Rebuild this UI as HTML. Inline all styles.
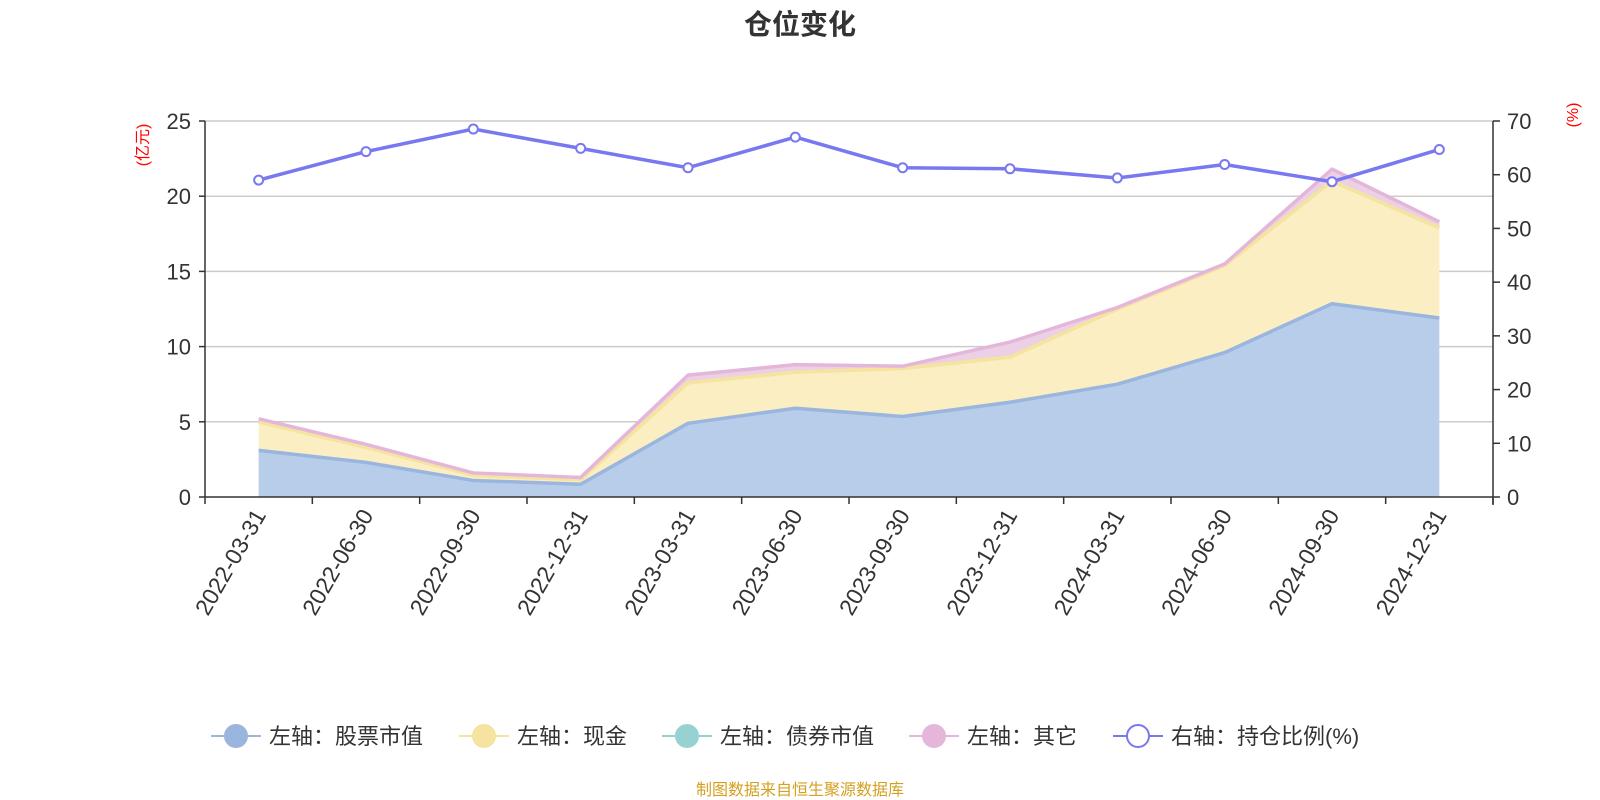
<!DOCTYPE html>
<html><head><meta charset="utf-8"><style>
html,body{margin:0;padding:0;background:#fff;}
svg{display:block;font-family:"Liberation Sans","Noto Sans CJK SC",sans-serif;}
</style></head><body>
<svg id="c" width="1600" height="800" viewBox="0 0 1600 800">
<text x="800" y="34" text-anchor="middle" font-size="28" font-weight="bold" fill="#333">仓位变化</text>
<text transform="translate(148,145) rotate(-90)" text-anchor="middle" font-size="16" fill="#f00">(亿元)</text>
<text transform="translate(1578,115) rotate(-90)" text-anchor="middle" font-size="16" fill="#f00">(%)</text>
<g id="grid"></g><g id="areas"></g><g id="edges"></g><g id="axes"></g><g id="line"></g>
<g id="legend"></g>
<text x="800" y="795" text-anchor="middle" font-size="16" fill="#d4a020">制图数据来自恒生聚源数据库</text>
</svg>
<script>
const categories=["2022-03-31","2022-06-30","2022-09-30","2022-12-31","2023-03-31","2023-06-30","2023-09-30","2023-12-31","2024-03-31","2024-06-30","2024-09-30","2024-12-31"];
const stockValues=[3.1,2.3,1.1,0.85,4.9,5.9,5.35,6.3,7.5,9.6,12.85,11.9];
const cashValues=[1.9,1.0,0.35,0.3,2.7,2.4,3.2,3.0,5.0,5.8,8.15,6.0];
const bondValues=[0,0,0,0,0,0,0,0,0,0,0,0];
const otherValues=[0.2,0.2,0.15,0.15,0.5,0.5,0.15,1.0,0.1,0.1,0.8,0.4];
const ratioValues=[59.0,64.3,68.5,64.9,61.3,67.0,61.3,61.1,59.4,61.9,58.7,64.7];
const leftTicks=[0,5,10,15,20,25];
const rightTicks=[0,10,20,30,40,50,60,70];
const NS="http://www.w3.org/2000/svg";
const L=205,R=1493,T=121,B=497;
const band=(R-L)/categories.length;
const x=i=>L+band*(i+0.5);
const yL=v=>B-(B-T)*v/25;
const yR=v=>B-(B-T)*v/70;
function mk(tag,attrs,parent){const e=document.createElementNS(NS,tag);for(const k in attrs)e.setAttribute(k,attrs[k]);parent.appendChild(e);return e;}
const grid=document.getElementById('grid'),axes=document.getElementById('axes'),areas=document.getElementById('areas'),edges=document.getElementById('edges'),lineG=document.getElementById('line'),leg=document.getElementById('legend');
leftTicks.forEach(v=>{
 if(v>0){const g=mk('line',{x1:L,x2:R,y1:yL(v),y2:yL(v),stroke:'#ccc','stroke-width':1.5},grid);
 
 }
 const t=mk('text',{x:L-14,y:yL(v)+8,'text-anchor':'end','font-size':22,fill:'#333'},axes);t.textContent=v;
 
 
 mk('line',{x1:L-6,x2:L,y1:yL(v),y2:yL(v),stroke:'#333','stroke-width':1.5},axes);
});
rightTicks.forEach(v=>{
 const t=mk('text',{x:R+14,y:yR(v)+8,'font-size':22,fill:'#333'},axes);t.textContent=v;
 
 
 mk('line',{x1:R,x2:R+7,y1:yR(v),y2:yR(v),stroke:'#333','stroke-width':1.5},axes);
});
const series=[[stockValues,'#b8cdea','#9ab5de','stock-area'],[cashValues,'#faeec2','#f5e3a0','cash-area'],[bondValues,'#b7e0e0','#f5e3a0','bond-area'],[otherValues,'#ecd0e6','#e4b7da','other-area']];
let base=categories.map(()=>0);
series.forEach(([vals,fill,stroke,name])=>{
 const top=vals.map((v,i)=>base[i]+v);
 let d='M'+categories.map((c,i)=>x(i)+','+yL(top[i])).join('L');
 for(let i=categories.length-1;i>=0;i--)d+='L'+x(i)+','+yL(base[i]);
 d+='Z';
 const a=mk('path',{d:d,fill:fill},areas);
 
 
 const l=mk('polyline',{points:categories.map((c,i)=>x(i)+','+yL(top[i])).join(' '),fill:'none',stroke:stroke,'stroke-width':3.5,'stroke-linejoin':'round'},edges);
 
 
 base=top;
});
mk('line',{x1:L,x2:L,y1:T,y2:B,stroke:'#333','stroke-width':1.5},axes);
mk('line',{x1:R,x2:R,y1:T,y2:B+8,stroke:'#333','stroke-width':1.5},axes);
mk('line',{x1:L,x2:R,y1:B,y2:B,stroke:'#333','stroke-width':1.5},axes);
for(let i=0;i<=categories.length;i++)mk('line',{x1:L+band*i,x2:L+band*i,y1:B,y2:B+7,stroke:'#333','stroke-width':1.5},axes);
categories.forEach((c,i)=>{
 const t=mk('text',{transform:`translate(${x(i)+8},${B+18}) rotate(-60)`,'text-anchor':'end','font-size':23,fill:'#333'},axes);t.textContent=c;
 
 
});
const pl=mk('polyline',{points:ratioValues.map((v,i)=>x(i)+','+yR(v)).join(' '),fill:'none',stroke:'#7878f0','stroke-width':3.5},lineG);


ratioValues.forEach((v,i)=>{
 const p=mk('circle',{cx:x(i),cy:yR(v),r:4.5,fill:'#fff',stroke:'#7878f0','stroke-width':2},lineG);
 
 
});
const legendItems=[['左轴：股票市值','#9ab5de',true,211],['左轴：现金','#f5e3a0',true,459],['左轴：债券市值','#96d2d2',true,662],['左轴：其它','#e4b7da',true,909],['右轴：持仓比例(%)','#7878f0',false,1113]];
legendItems.forEach(([label,col,filled,lx])=>{
 const g=mk('g',{},leg);
 
 
 mk('line',{x1:lx,x2:lx+50,y1:736,y2:736,stroke:col,'stroke-width':2},g);
 mk('circle',{cx:lx+25,cy:736,r:11,fill:filled?col:'#fff',stroke:col,'stroke-width':2},g);
 const t=mk('text',{x:lx+58,y:744,'font-size':22,fill:'#333'},g);t.textContent=label;
});
</script>
</body></html>
